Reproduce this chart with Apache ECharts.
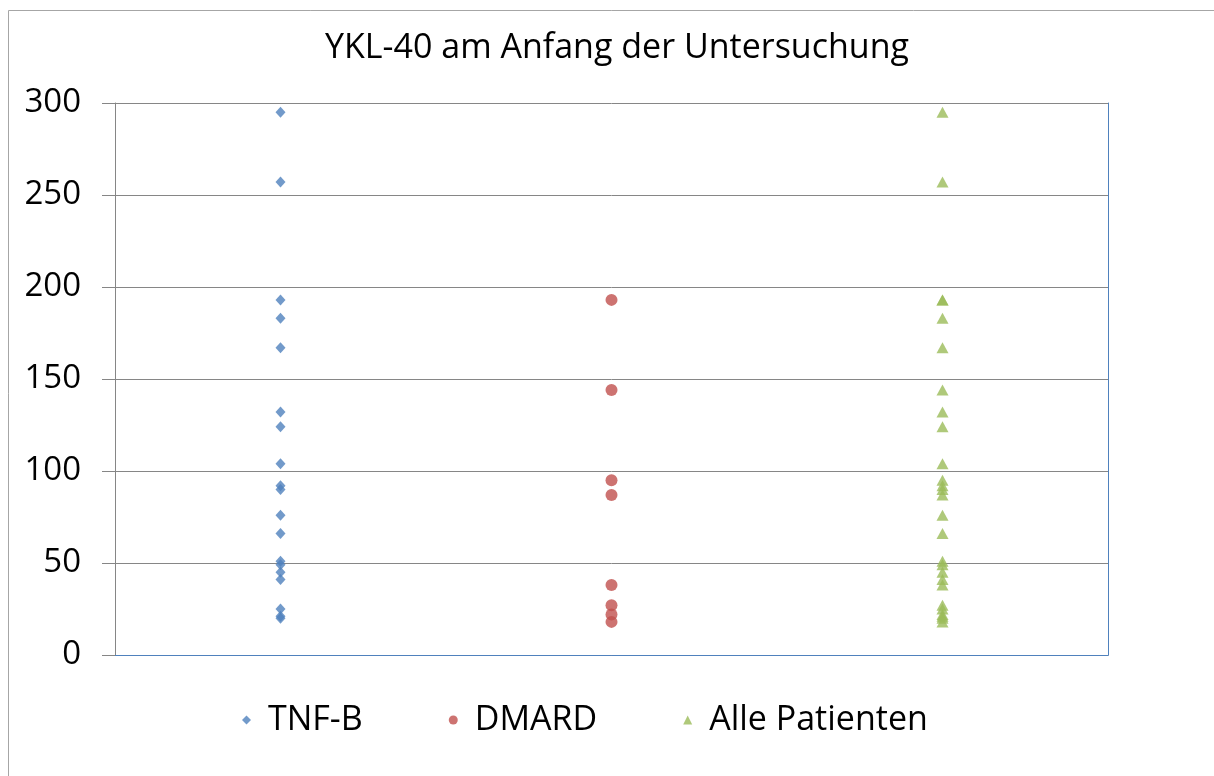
<!DOCTYPE html>
<html>
<head>
<meta charset="utf-8">
<script src="https://cdn.jsdelivr.net/npm/echarts@6/dist/echarts.min.js"></script>
<style>
  html, body { margin: 0; padding: 0; background: #fff; }
  #chart { width: 1214px; height: 776px; }
</style>
</head>
<body>
<div id="chart"></div>
<script>
// groups on the x axis
var groups = ["TNF-B", "DMARD", "Alle Patienten"];
// YKL-40 values
var tnfB = [295, 257, 193, 183, 167, 132, 124, 104, 92, 90, 76, 66, 51, 49, 45, 41, 25, 21, 20];
var dmard = [193, 144, 95, 87, 38, 27, 22, 18];
var alle = [295, 257, 193, 193, 183, 167, 144, 132, 124, 104, 95, 92, 90, 87, 76, 66, 51, 49, 45, 41, 38, 27, 25, 22, 21, 20, 18];
var yTicks = [0, 50, 100, 150, 200, 250, 300];

var font = "'Open Sans', 'Noto Sans', sans-serif";

function toPoints(group, values) {
  return values.map(function (v) { return [group, v]; });
}

var chart = echarts.init(document.getElementById("chart"));

var option = {
  backgroundColor: "#fff",
  animation: false,
  title: {
    text: "YKL-40 am Anfang der Untersuchung",
    left: 612,
    textAlign: "center",
    top: 26,
    textStyle: { fontFamily: font, fontSize: 34, fontWeight: "normal", color: "#000" }
  },
  legend: {
    left: 237,
    top: 698,
    itemGap: 86,
    itemWidth: 9,
    itemHeight: 9,
    textStyle: { fontFamily: font, fontSize: 34, color: "#000", padding: [0, 0, 0, 12] },
    data: [
      { name: "TNF-B", icon: "diamond" },
      { name: "DMARD", icon: "circle" },
      { name: "Alle Patienten", icon: "triangle" }
    ]
  },
  grid: { left: 115, right: 106, top: 103, bottom: 121 },
  xAxis: [
    {
      type: "category",
      data: groups,
      axisLine: { lineStyle: { color: "#868686", width: 1 } },
      axisTick: { show: false },
      axisLabel: { show: false },
      splitLine: { show: false }
    },
    {
      type: "category",
      position: "top",
      data: groups,
      axisLine: { lineStyle: { color: "#4F81BD", width: 1 } },
      axisTick: { show: false },
      axisLabel: { show: false },
      splitLine: { show: false }
    }
  ],
  yAxis: [
    {
      type: "value",
      min: yTicks[0],
      max: yTicks[yTicks.length - 1],
      interval: 50,
      axisLine: { show: true, lineStyle: { color: "#868686", width: 1 } },
      axisTick: { show: true, length: 13, lineStyle: { color: "#868686" } },
      axisLabel: { fontFamily: font, fontSize: 33, color: "#000", margin: 34 },
      splitLine: { lineStyle: { color: "#868686", width: 1 } }
    },
    {
      type: "value",
      position: "right",
      min: 0,
      max: 300,
      interval: 50,
      axisLine: { show: true, lineStyle: { color: "#4F81BD", width: 1 } },
      axisTick: { show: false },
      axisLabel: { show: false },
      splitLine: { show: false }
    }
  ],
  graphic: [
    {
      type: "rect",
      shape: { x: 8.5, y: 10.5, width: 1400, height: 1000 },
      style: { fill: "none", stroke: "#a6a6a6", lineWidth: 1 },
      silent: true
    }
  ],
  series: [
    {
      name: "TNF-B",
      type: "scatter",
      symbol: "diamond",
      symbolSize: [10, 11],
      itemStyle: { color: "#4F81BD" },
      data: toPoints(groups[0], tnfB)
    },
    {
      name: "DMARD",
      type: "scatter",
      symbol: "circle",
      symbolSize: 12,
      itemStyle: { color: "#C0504D" },
      data: toPoints(groups[1], dmard)
    },
    {
      name: "Alle Patienten",
      type: "scatter",
      symbol: "triangle",
      symbolSize: [12, 11],
      itemStyle: { color: "#9BBB59" },
      data: toPoints(groups[2], alle)
    }
  ]
};

chart.setOption(option);
</script>
</body>
</html>
